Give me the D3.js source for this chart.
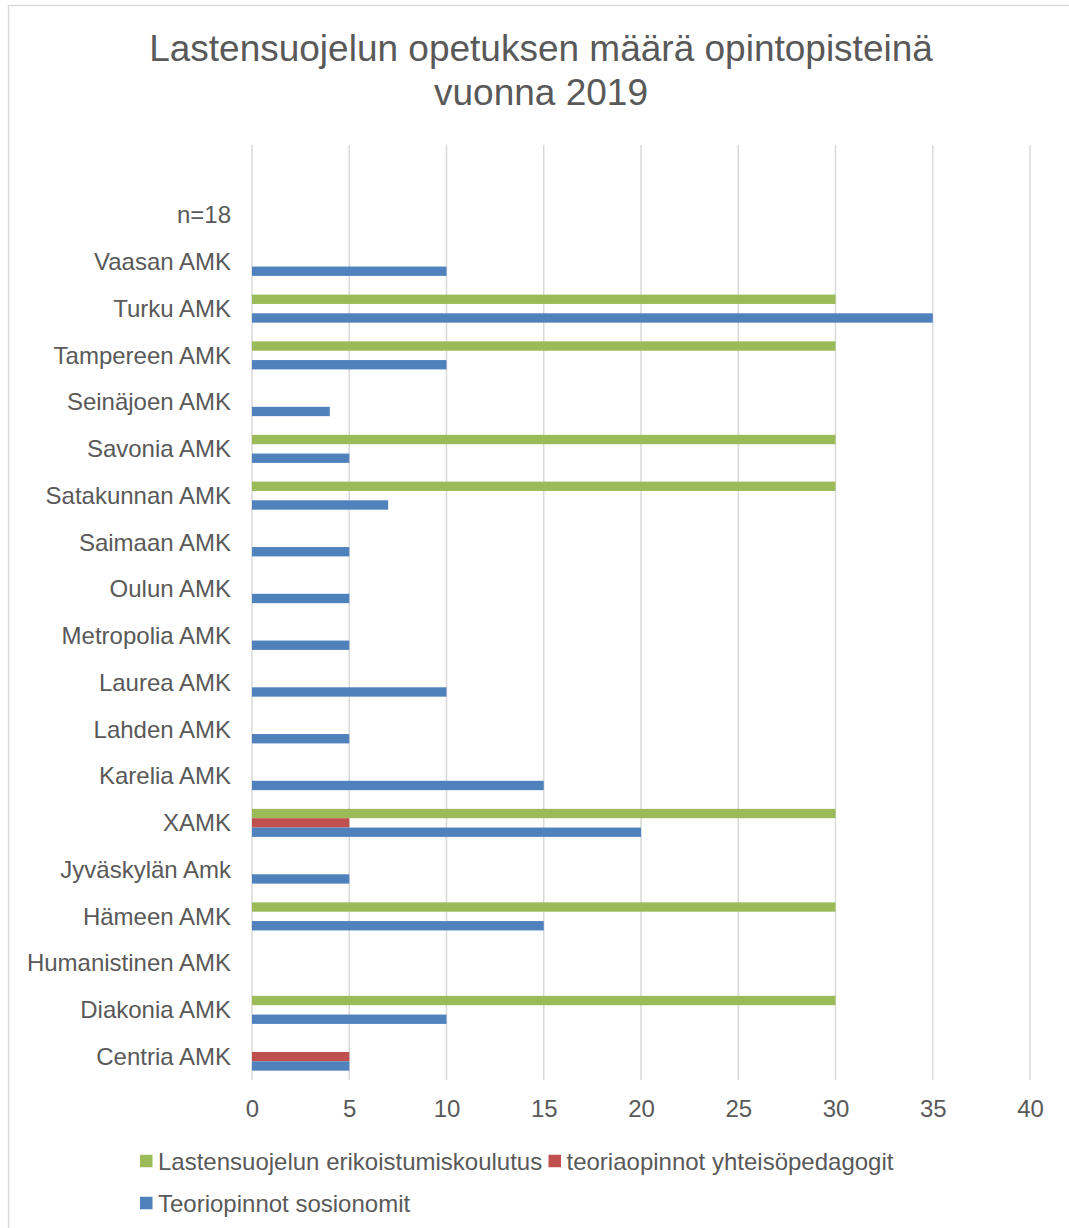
<!DOCTYPE html>
<html>
<head>
<meta charset="utf-8">
<script src="https://cdn.jsdelivr.net/npm/d3@7"></script>
<style>
body{margin:0;background:#fff;}
text{font-family:"Liberation Sans",Arial,sans-serif;fill:#595959;}
</style>
</head>
<body>
<svg id="chart" width="1069" height="1228"></svg>
<script>
const categories = ["", "n=18", "Vaasan AMK", "Turku AMK", "Tampereen AMK", "Seinäjoen AMK", "Savonia AMK",
  "Satakunnan AMK", "Saimaan AMK", "Oulun AMK", "Metropolia AMK", "Laurea AMK", "Lahden AMK",
  "Karelia AMK", "XAMK", "Jyväskylän Amk", "Hämeen AMK", "Humanistinen AMK", "Diakonia AMK", "Centria AMK"];
const seriesNames = ["Lastensuojelun erikoistumiskoulutus", "teoriaopinnot yhteisöpedagogit", "Teoriopinnot sosionomit"];
const seriesColors = ["#9BBB59", "#C0504D", "#4F81BD"];
const erikoistumis = [0, 0, 0, 30, 30, 0, 30, 30, 0, 0, 0, 0, 0, 0, 30, 0, 30, 0, 30, 0];
const yhteisopedagogit = [0, 0, 0, 0, 0, 0, 0, 0, 0, 0, 0, 0, 0, 0, 5, 0, 0, 0, 0, 5];
const sosionomit = [0, 0, 10, 35, 10, 4, 5, 7, 5, 5, 5, 10, 5, 15, 20, 5, 15, 0, 10, 5];
const xTicks = [0, 5, 10, 15, 20, 25, 30, 35, 40];
const titleLines = ["Lastensuojelun opetuksen määrä opintopisteinä", "vuonna 2019"];

const seriesValues = [erikoistumis, yhteisopedagogit, sosionomit];
const svg = d3.select("#chart");

// outer border
svg.append("rect").attr("x", 8.5).attr("y", 5.5).attr("width", 1100).attr("height", 1300)
  .attr("fill", "none").attr("stroke", "#D9D9D9").attr("stroke-width", 1.5);

const plot = {left: 252, right: 1030, top: 145, bottom: 1080};
const x = d3.scaleLinear().domain([0, 40]).range([plot.left, plot.right]);
const y = d3.scaleBand().domain(categories.map((c, i) => i)).range([plot.top, plot.bottom]).paddingInner(0);
const bw = y.bandwidth();
const inner = d3.scaleBand().domain([0, 1, 2]).range([bw * 0.2, bw * 0.8]).paddingInner(0);

// title
svg.append("g").selectAll("text").data(titleLines).join("text")
  .attr("x", 541).attr("y", (d, i) => 61 + i * 44)
  .attr("text-anchor", "middle").attr("font-size", 37).text(d => d);

// gridlines
svg.append("g").selectAll("line").data(xTicks).join("line")
  .attr("x1", d => x(d)).attr("x2", d => x(d))
  .attr("y1", plot.top).attr("y2", plot.bottom)
  .attr("stroke", "#D9D9D9").attr("stroke-width", 1.5);

// bars
const rows = [];
categories.forEach((c, i) => seriesValues.forEach((vals, s) => {
  if (vals[i] > 0) rows.push({i, s, v: vals[i]});
}));
svg.append("g").selectAll("rect").data(rows).join("rect")
  .attr("x", x(0)).attr("y", d => y(d.i) + inner(d.s))
  .attr("width", d => x(d.v) - x(0)).attr("height", inner.bandwidth())
  .attr("fill", d => seriesColors[d.s]);

// y axis labels
const yAxis = d3.axisLeft(d3.scalePoint().domain(categories.map((c, i) => i)).range([y(0) + bw / 2, y(categories.length - 1) + bw / 2]))
  .tickSize(0).tickPadding(0).tickFormat(i => categories[i]);
const ya = svg.append("g").attr("transform", "translate(231,0)").call(yAxis);
ya.select(".domain").remove();
ya.selectAll("text").attr("font-size", 24).attr("fill", "#595959")
  .style("font-family", "'Liberation Sans', Arial, sans-serif");

// x axis labels
const xAxis = d3.axisBottom(x).tickValues(xTicks).tickSize(0).tickPadding(0);
const xa = svg.append("g").attr("transform", "translate(0,1100)").call(xAxis);
xa.select(".domain").remove();
xa.selectAll("text").attr("font-size", 24).attr("fill", "#595959")
  .style("font-family", "'Liberation Sans', Arial, sans-serif");

// legend
const legendPos = [{x: 140, y: 1161}, {x: 548.5, y: 1161}, {x: 140, y: 1203}];
const lg = svg.append("g").selectAll("g").data(seriesNames).join("g")
  .attr("transform", (d, i) => `translate(${legendPos[i].x},${legendPos[i].y})`);
lg.append("rect").attr("x", 0).attr("y", -6.25).attr("width", 12.5).attr("height", 12.5)
  .attr("fill", (d, i) => seriesColors[i]);
lg.append("text").attr("x", 18).attr("y", 8.5).attr("font-size", 24).text(d => d);
</script>
</body>
</html>
